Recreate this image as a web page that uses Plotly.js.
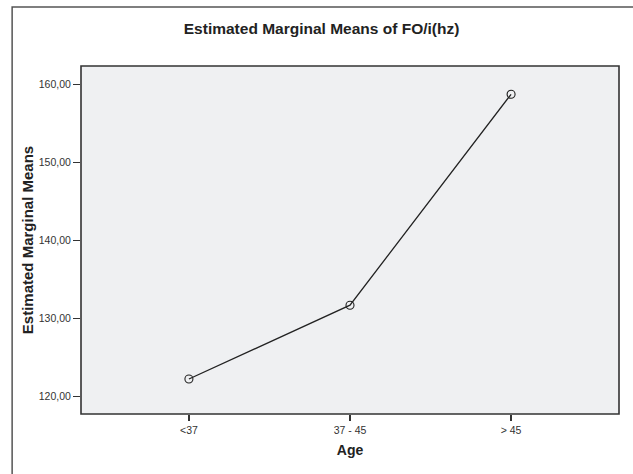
<!DOCTYPE html>
<html>
<head>
<meta charset="utf-8">
<script src="https://cdn.plot.ly/plotly-3.0.1.min.js"></script>
<style>
html,body{margin:0;padding:0;background:#fff;}
#chart{width:633px;height:474px;}
</style>
</head>
<body>
<div id="chart"></div>
<script>
const categories = ["<37", "37 - 45", "> 45"];
const means = [122.27, 131.72, 158.72];
const yTickValues = [120, 130, 140, 150, 160];
const yTickLabels = ["120,00", "130,00", "140,00", "150,00", "160,00"];

const trace = {
  x: [0, 1, 2],
  y: means,
  type: "scatter",
  mode: "lines+markers",
  line: {color: "#222222", width: 1.3},
  marker: {symbol: "circle-open", size: 8, color: "#222222", line: {width: 1.1, color: "#222222"}},
  hoverinfo: "skip",
  showlegend: false
};

const layout = {
  width: 633,
  height: 474,
  margin: {l: 81, r: 14, t: 66, b: 60, pad: 0},
  paper_bgcolor: "#ffffff",
  plot_bgcolor: "#eff0f2",
  font: {family: "Liberation Sans, Arial, sans-serif", color: "#333333", size: 10},
  title: {
    text: "<b>Estimated Marginal Means of FO/i(hz)</b>",
    font: {size: 15.5, color: "#222222", family: "Liberation Sans, Arial, sans-serif"},
    x: 0.508, xref: "container", xanchor: "center",
    y: 0.94, yref: "container", yanchor: "middle"
  },
  xaxis: {
    range: [-0.67, 2.67],
    tickmode: "array",
    tickvals: [0, 1, 2],
    ticktext: categories,
    ticks: "outside",
    ticklen: 6,
    tickwidth: 1.2,
    tickcolor: "#333333",
    showgrid: false,
    zeroline: false,
    showline: false,
    tickfont: {size: 10.5, color: "#333333"},
    title: {text: "<b>Age</b>", font: {size: 14, color: "#222222"}, standoff: 10},
    automargin: false
  },
  yaxis: {
    range: [117.79, 162.34],
    tickmode: "array",
    tickvals: yTickValues,
    ticktext: yTickLabels,
    ticks: "outside",
    ticklen: 7,
    tickwidth: 1.2,
    tickcolor: "#333333",
    showgrid: false,
    zeroline: false,
    showline: false,
    tickfont: {size: 10.5, color: "#333333"},
    title: {text: "<b>Estimated Marginal Means</b>", font: {size: 15, color: "#222222"}, standoff: 1},
    automargin: false
  },
  shapes: [
    {type: "rect", xref: "paper", yref: "paper", x0: 0, x1: 1, y0: 0, y1: 1,
     line: {color: "#333333", width: 1.6}, fillcolor: "rgba(0,0,0,0)", layer: "above"},
    {type: "rect", xref: "paper", yref: "paper", x0: -0.128, x1: 1.2, y0: -0.4, y1: 1.1695,
     line: {color: "#555555", width: 1.5}, fillcolor: "rgba(0,0,0,0)", layer: "below"}
  ]
};

Plotly.newPlot("chart", [trace], layout, {staticPlot: true, displayModeBar: false});
</script>
</body>
</html>
